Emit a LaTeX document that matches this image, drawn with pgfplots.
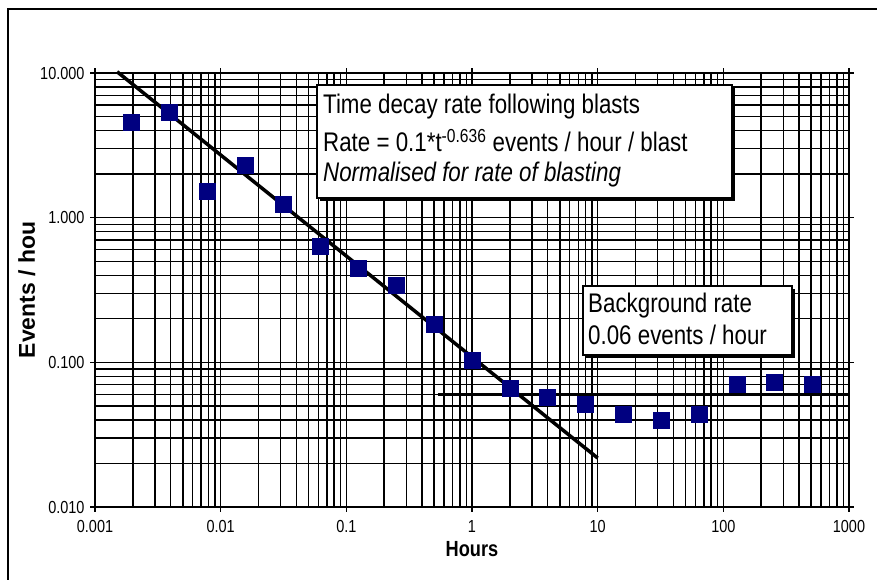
\documentclass[border=0pt]{standalone}
\usepackage{fontspec}
\setmainfont{Liberation Sans}[FakeStretch=0.83]
\newfontfamily\ylabfont{Liberation Sans}
\usepackage{pgfplots}
\pgfplotsset{compat=1.18}
\definecolor{navy}{RGB}{0,0,128}
\pgfplotstableread{
x y
0.001953 4.58
0.003906 5.37
0.007813 1.53
0.015625 2.31
0.03125 1.24
0.0625 0.637
0.125 0.449
0.25 0.343
0.5 0.184
1 0.104
2 0.0665
4 0.0576
8 0.0516
16 0.0440
32 0.0400
64 0.0440
128 0.0709
256 0.0733
512 0.0709
}\datatable
\begin{document}
\begin{tikzpicture}
\path[use as bounding box] (0,0) rectangle (877bp,580bp);
\draw[line width=1.5bp] (8bp,-10bp) rectangle (890bp,571bp);
\begin{axis}[
  at={(95bp,73bp)}, anchor=south west,
  scale only axis, width=754bp, height=434bp,
  xmode=log, ymode=log,
  xmin=0.001, xmax=1000, ymin=0.01, ymax=10,
  xtick={0.001,0.01,0.1,1,10,100,1000},
  xticklabels={0.001,0.01,0.1,1,10,100,1000},
  ytick={0.01,0.1,1,10},
  yticklabels={0.010,0.100,1.000,10.000},
  grid=both,
  major grid style={black, line width=1.4bp},
  minor grid style={black, line width=1.4bp},
  axis line style={line width=1.5bp},
  tick style={black, line width=1.3bp},
  tick align=outside, major tick length=5bp, minor tick length=0pt,
  tick label style={font=\fontsize{17.5}{20}\selectfont},
  xticklabel style={yshift=-5bp},
  yticklabel style={xshift=-2bp},
  xlabel={Hours},
  xlabel style={font=\fontsize{22}{25}\selectfont\bfseries, yshift=-2bp},
  ylabel={Events / hou},
  ylabel style={font=\ylabfont\fontsize{23}{26}\selectfont\bfseries, yshift=-2bp},
  clip=false,
]
\addplot[only marks, mark=square*, mark size=8bp, mark options={draw=navy, fill=navy}] table {\datatable};
\addplot[black, line width=3.5bp, no marks] coordinates {(0.0015,10.2) (10,0.0218)};
\addplot[black, line width=3bp, no marks] coordinates {(0.536,0.06) (1000,0.06)};
\end{axis}
% annotation box 1
\fill[black] (320bp,379bp) rectangle (735bp,492bp);
\draw[fill=white, line width=1.2bp] (317bp,382bp) rectangle (732bp,495bp);
\node[anchor=base west, inner sep=0pt, font=\fontsize{27}{30}\selectfont] at (323bp,466bp) {Time decay rate following blasts};
\node[anchor=base west, inner sep=0pt, font=\fontsize{27}{30}\selectfont] at (323bp,428bp) {Rate = 0.1*t\textsuperscript{-0.636} events / hour / blast};
\node[anchor=base west, inner sep=0pt, font=\fontsize{27}{30}\selectfont\itshape] at (323bp,398bp) {Normalised for rate of blasting};
% annotation box 2
\fill[black] (586bp,222bp) rectangle (795bp,291bp);
\draw[fill=white, line width=1.2bp] (583bp,225bp) rectangle (792bp,294bp);
\node[anchor=base west, inner sep=0pt, font=\fontsize{27}{30}\selectfont] at (588bp,267bp) {Background rate};
\node[anchor=base west, inner sep=0pt, font=\fontsize{27}{30}\selectfont] at (588bp,235bp) {0.06 events / hour};
\end{tikzpicture}
\end{document}
